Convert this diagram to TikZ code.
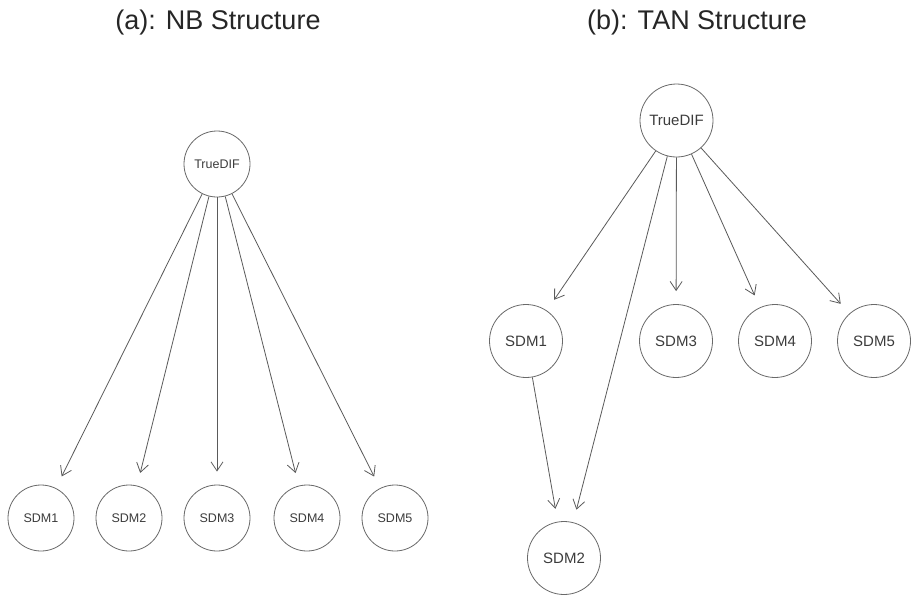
\documentclass[tikz,border=0pt]{standalone}
\usepackage{fontspec}
\setmainfont{Liberation Sans}
\usetikzlibrary{arrows.meta}
\definecolor{edgecol}{RGB}{90,90,90}
\definecolor{nodecol}{RGB}{105,105,105}
\definecolor{txtcol}{RGB}{60,60,60}
\begin{document}
\begin{tikzpicture}[x=1pt,y=-1pt,
  nd/.style={circle,draw=nodecol,line width=0.8pt,minimum size=66pt,inner sep=0pt,text=txtcol,font=\fontsize{12.5}{12.5}\selectfont},
  ndb/.style={nd,minimum size=73pt,font=\fontsize{15}{15}\selectfont},
  ar/.style={draw=edgecol,line width=0.8pt,-{Straight Barb[length=9pt,width=12pt]},shorten >=13pt},
  ttl/.style={font=\fontsize{27}{27}\selectfont,text=black!85}]
\useasboundingbox[fill=white] (0,0) rectangle (912,597);
% titles
\node[ttl] (ta) at (218,23) {(a): NB Structure};
\node[ttl] (tb) at (697,23) {(b): TAN Structure};
% (a)
\node[nd] (aT) at (217,164) {TrueDIF};
\node[nd] (a1) at (41,518) {SDM1};
\node[nd] (a2) at (129,518) {SDM2};
\node[nd] (a3) at (217,518) {SDM3};
\node[nd] (a4) at (307,518) {SDM4};
\node[nd] (a5) at (395,518) {SDM5};
\foreach \t in {a1,a2,a3,a4,a5} \draw[ar] (aT) -- (\t);
% (b)
\node[ndb] (bT) at (676.5,120.5) {TrueDIF};
\node[ndb] (b1) at (526,341) {SDM1};
\node[ndb] (b3) at (676,341) {SDM3};
\node[ndb] (b4) at (775,341) {SDM4};
\node[ndb] (b5) at (874,341) {SDM5};
\node[ndb] (b2) at (564,558) {SDM2};
\foreach \t in {b1,b3,b4,b5,b2} \draw[ar] (bT) -- (\t);
\draw[ar] (b1) -- (b2);
\end{tikzpicture}
\end{document}
